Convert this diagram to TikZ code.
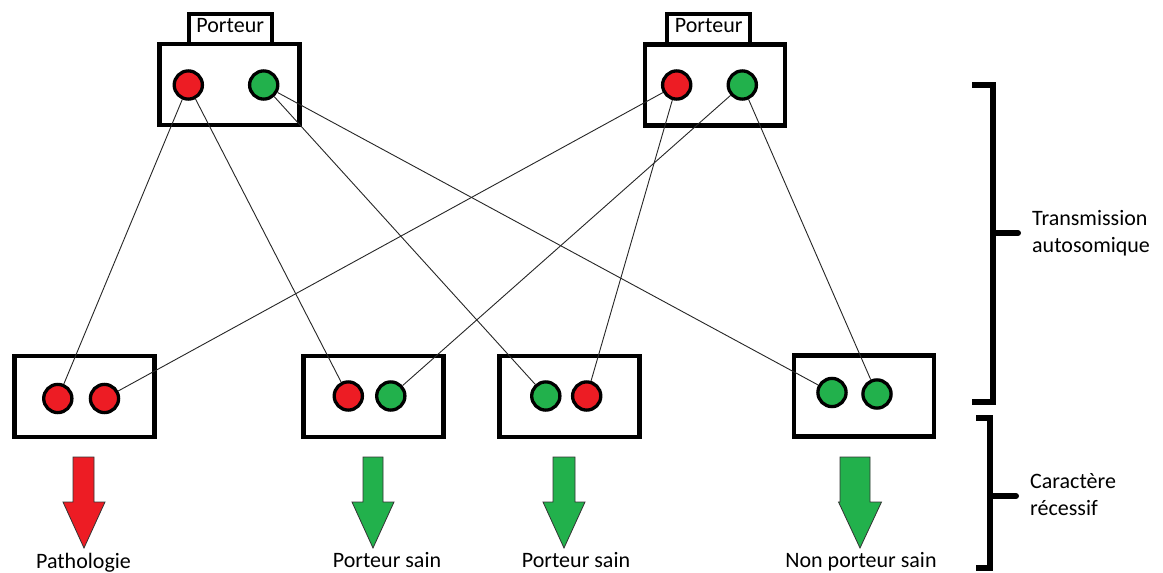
\documentclass[tikz,border=0pt]{standalone}
\usepackage{fontspec}
\setmainfont{Carlito}
\definecolor{allred}{HTML}{ED1C24}
\definecolor{allgreen}{HTML}{22B14C}
\newcommand{\fatdown}[5]{% tip x, shaft left, shaft right, colour, head half-width
  \filldraw[fill=#4, draw=black!80, line width=0.8pt, line join=miter]
    (#2,457) -- (#3,457) -- (#3,502) -- (#1+#5,502) -- (#1,548)
    -- (#1-#5,502) -- (#2,502) -- cycle;}
\begin{document}
\begin{tikzpicture}[x=1pt, y=-1pt,
  txt/.style={font=\fontsize{22}{27}\selectfont, inner sep=0pt},
  pbox/.style={draw, line width=4.5pt, minimum width=140pt, minimum height=81pt, inner sep=0pt},
  tag/.style={txt, draw, line width=4pt, fill=white, minimum width=83pt,
    minimum height=30pt, text height=15pt, text depth=8pt},
  allele/.style={circle, draw, line width=3.3pt, minimum size=28.2pt, inner sep=0pt},
  ra/.style={allele, fill=allred},
  ga/.style={allele, fill=allgreen},
  link/.style={line width=0.9pt, draw=black!85},
  bracket/.style={line width=6pt, line join=miter}]
\fill[white] (0,0) rectangle (1163,573);
\useasboundingbox (0,0) rectangle (1163,573);

% parents
\node[pbox] (P1) at (229.5,84.5) {};
\node[pbox] (P2) at (715,85) {};
\node[tag] (T1) at (230.2,29) {Porteur};
\node[tag] (T2) at (708.7,29) {Porteur};

% offspring
\node[pbox] (C1) at (84.7,396.5) {};
\node[pbox] (C2) at (373.7,396.5) {};
\node[pbox] (C3) at (569.5,396.5) {};
\node[pbox] (C4) at (864,396) {};

% alleles
\node[ra] (p1r) at (188.3,85) {};
\node[ga] (p1g) at (263.7,85) {};
\node[ra] (p2r) at (676.7,85) {};
\node[ga] (p2g) at (742.3,85) {};

\node[ra] (c1a) at (57.8,398.5) {};
\node[ra] (c1b) at (104.5,398.5) {};
\node[ra] (c2a) at (348.3,396) {};
\node[ga] (c2b) at (390.8,396) {};
\node[ga] (c3a) at (545.8,396) {};
\node[ra] (c3b) at (586.7,396) {};
\node[ga] (c4a) at (832,392.5) {};
\node[ga] (c4b) at (877,394) {};

% transmission lines
\draw[link] (p1r) -- (c1a);
\draw[link] (p1r) -- (c2a);
\draw[link] (p1g) -- (c3a);
\draw[link] (p1g) -- (c4a);
\draw[link] (p2r) -- (c1b);
\draw[link] (p2r) -- (c3b);
\draw[link] (p2g) -- (c2b);
\draw[link] (p2g) -- (c4b);

% phenotype arrows
\fatdown{84}{73}{94}{allred}{21}
\fatdown{373}{363}{383}{allgreen}{21}
\fatdown{564}{553}{575}{allgreen}{21}
\fatdown{860}{840}{870}{allgreen}{21.5}

\node[txt, anchor=base] (L1) at (83.5,568) {Pathologie};
\node[txt, anchor=base] (L2) at (387,567) {Porteur sain};
\node[txt, anchor=base] (L3) at (576,567) {Porteur sain};
\node[txt, anchor=base] (L4) at (861,567) {Non porteur sain};

% brackets
\draw[bracket] (972,85) -- (993,85) -- (993,402) -- (972,402);
\draw[bracket, line cap=round] (993,233) -- (1018,233);
\draw[bracket] (976,417.5) -- (990,417.5) -- (990,568) -- (976,568);
\draw[bracket, line cap=round] (990,496) -- (1016,496);

% two-line labels: base anchor sits on the last line
\node[txt, anchor=base west, align=left] (B1) at (1032,252) {Transmission\\autosomique};
\node[txt, anchor=base west, align=left] (B2) at (1030,515) {Caractère\\récessif};
\end{tikzpicture}
\end{document}
